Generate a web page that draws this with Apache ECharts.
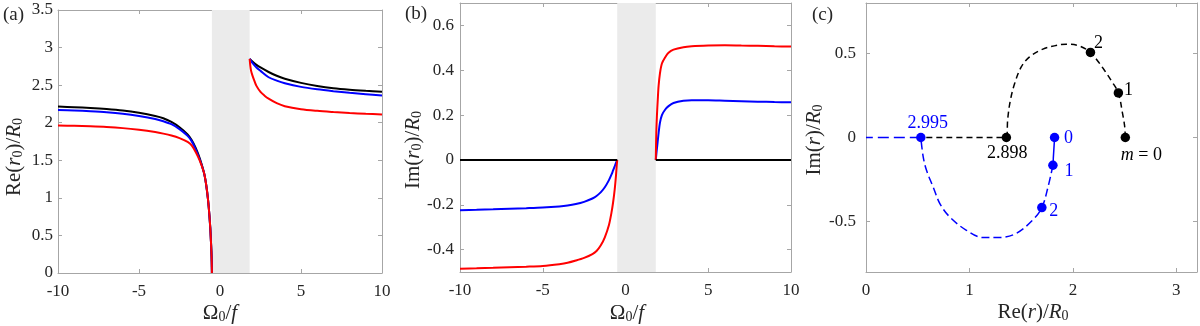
<!DOCTYPE html>
<html>
<head>
<meta charset="utf-8">
<title>r0 versus Omega0/f</title>
<script src="https://cdn.jsdelivr.net/npm/echarts@6/dist/echarts.min.js"></script>
<style>
body { margin: 0; background: #fff; }
#chart { width: 1200px; height: 326px; }
</style>
</head>
<body>
<div id="chart"></div>
<script>
// values
var bandRange = [-0.5, 1.83];

// (a) Re(r0)/R0
var reBlackL = [[-10,2.215],[-9,2.207],[-8,2.197],[-7,2.183],[-6,2.163],[-5,2.132],[-4,2.09],[-3.5,2.06],[-3,2.01],[-2.5,1.94],[-2,1.845],[-1.75,1.77],[-1.5,1.665],[-1.25,1.525],[-1,1.345],[-0.9,1.24],[-0.8,1.09],[-0.7,0.89],[-0.6,0.6],[-0.55,0.38],[-0.52,0.22],[-0.505,0.08],[-0.5,0]];
var reBlueL  = [[-10,2.17],[-9,2.163],[-8,2.153],[-7,2.14],[-6,2.12],[-5,2.09],[-4,2.05],[-3.5,2.02],[-3,1.98],[-2.5,1.915],[-2,1.825],[-1.75,1.755],[-1.5,1.645],[-1.25,1.51],[-1,1.345],[-0.9,1.24],[-0.8,1.09],[-0.7,0.89],[-0.6,0.6],[-0.55,0.38],[-0.52,0.22],[-0.505,0.08],[-0.5,0]];
var reRedL   = [[-10,1.963],[-9,1.958],[-8,1.952],[-7,1.943],[-6,1.928],[-5,1.905],[-4,1.875],[-3.5,1.855],[-3,1.83],[-2.5,1.795],[-2,1.745],[-1.75,1.70],[-1.5,1.61],[-1.25,1.495],[-1,1.345],[-0.9,1.24],[-0.8,1.09],[-0.7,0.89],[-0.6,0.6],[-0.55,0.38],[-0.52,0.22],[-0.505,0.08],[-0.5,0]];
var reBlackR = [[1.83,2.85],[2,2.815],[2.25,2.77],[2.5,2.735],[3,2.675],[3.5,2.625],[4,2.585],[5,2.53],[6,2.49],[7,2.46],[8,2.44],[9,2.425],[10,2.412]];
var reBlueR  = [[1.83,2.85],[2,2.795],[2.25,2.735],[2.5,2.69],[3,2.605],[3.5,2.56],[4,2.525],[5,2.477],[6,2.445],[7,2.42],[8,2.398],[9,2.38],[10,2.363]];
var reRedR   = [[1.83,2.85],[1.87,2.76],[1.92,2.69],[2,2.63],[2.1,2.57],[2.25,2.49],[2.5,2.41],[2.75,2.36],[3,2.32],[3.5,2.26],[4,2.22],[5,2.18],[6,2.158],[7,2.142],[8,2.128],[9,2.118],[10,2.11]];

// (b) Im(r0)/R0
var imRedL   = [[-10,-0.485],[-9,-0.4835],[-8,-0.4815],[-7,-0.479],[-6,-0.4765],[-5,-0.473],[-4,-0.465],[-3.5,-0.459],[-3,-0.449],[-2.5,-0.437],[-2,-0.42],[-1.75,-0.406],[-1.5,-0.382],[-1.25,-0.345],[-1,-0.29],[-0.85,-0.236],[-0.75,-0.19],[-0.65,-0.13],[-0.575,-0.07],[-0.53,-0.025],[-0.5,0]];
var imBlueL  = [[-10,-0.224],[-9,-0.2225],[-8,-0.2205],[-7,-0.218],[-6,-0.2155],[-5,-0.2125],[-4,-0.2075],[-3.5,-0.2035],[-3,-0.197],[-2.5,-0.187],[-2,-0.172],[-1.75,-0.161],[-1.5,-0.145],[-1.25,-0.122],[-1,-0.09],[-0.85,-0.066],[-0.75,-0.047],[-0.65,-0.028],[-0.575,-0.013],[-0.5,0]];
var imRedR   = [[1.83,0],[1.86,0.12],[1.9,0.2],[1.95,0.27],[2,0.33],[2.08,0.385],[2.2,0.43],[2.4,0.458],[2.6,0.478],[2.9,0.492],[3.5,0.503],[4,0.507],[5,0.51],[6,0.511],[7,0.51],[8,0.509],[9,0.507],[10,0.506]];
var imBlueR  = [[1.83,0],[1.87,0.03],[1.92,0.065],[2,0.12],[2.08,0.165],[2.2,0.2],[2.4,0.225],[2.6,0.24],[2.9,0.254],[3.5,0.264],[4,0.266],[5,0.266],[6,0.264],[7,0.262],[8,0.26],[9,0.258],[10,0.257]];
var imBlackL = [[-10,0],[-0.5,0]];
var imBlackR = [[1.83,0],[10,0]];

// (c) r in the complex plane
var cBlack = [[2.507,0],[2.50,0.07],[2.48,0.143],[2.44,0.265],[2.38,0.33],[2.305,0.40],[2.24,0.455],[2.17,0.506],[2.06,0.545],[1.935,0.555],[1.82,0.545],[1.71,0.526],[1.581,0.48],[1.501,0.42],[1.437,0.321],[1.396,0.222],[1.37,0.11],[1.357,0],[0.53,0]];
var cBlueSolid = [[1.823,0],[1.807,-0.165]];
var cBlue = [[1.807,-0.165],[1.76,-0.294],[1.70,-0.417],[1.61,-0.492],[1.45,-0.571],[1.29,-0.595],[1.13,-0.595],[0.971,-0.552],[0.81,-0.473],[0.714,-0.393],[0.649,-0.294],[0.585,-0.195],[0.553,-0.115],[0.53,0]];
var cBlueAxis = [[0.53,0],[0,0]];
var blackPts = [[2.507,0],[2.44,0.265],[2.17,0.506],[1.357,0]];
var blackPtText = ['{i|m} = 0', '1', '2', '2.898'];
var bluePts = [[1.823,0],[1.807,-0.165],[1.70,-0.417],[0.53,0]];
var bluePtText = ['0', '1', '2', '2.995'];

var SERIF = 'Liberation Serif';
var AX = '#a6a6a6';
var TXT = '#262626';

var chart = echarts.init(document.getElementById('chart'));

var grids = [
    { left: 58, top: 10, width: 324, height: 263 },
    { left: 460, top: 3, width: 331, height: 269 },
    { left: 866, top: 3, width: 331, height: 269 }
];

function axisPair(gi, pos, opt) {
    var main = {
        type: 'value', gridIndex: gi, position: pos,
        min: opt.min, max: opt.max,
        axisLine: { show: true, onZero: false, lineStyle: { color: AX, width: 1 } },
        axisTick: { show: true, inside: true, length: 4, lineStyle: { color: AX } },
        splitLine: { show: false },
        axisLabel: {
            show: true, color: TXT, fontFamily: SERIF, fontSize: 17, margin: opt.margin,
            showMinLabel: opt.showMin, showMaxLabel: opt.showMax
        }
    };
    if (opt.interval) main.interval = opt.interval;
    if (opt.splitNumber) main.splitNumber = opt.splitNumber;
    var other = JSON.parse(JSON.stringify(main));
    other.position = (pos === 'bottom') ? 'top' : 'right';
    other.axisLabel = { show: false };
    return [main, other];
}

var xAxes = [].concat(
    axisPair(0, 'bottom', { min: -10, max: 10, interval: 5, margin: 10, showMin: true, showMax: true }),
    axisPair(1, 'bottom', { min: -10, max: 10, interval: 5, margin: 10, showMin: true, showMax: true }),
    axisPair(2, 'bottom', { min: 0, max: 3.2, interval: 1, margin: 10, showMin: true, showMax: false })
);
var yAxes = [].concat(
    axisPair(0, 'left', { min: 0, max: 3.5, interval: 0.5, margin: 5, showMin: true, showMax: true }),
    axisPair(1, 'left', { min: -0.5, max: 0.7, splitNumber: 6, margin: 6, showMin: false, showMax: false }),
    axisPair(2, 'left', { min: -0.8, max: 0.8, splitNumber: 3, margin: 10, showMin: false, showMax: false })
);

function curve(gi, data, color, extra) {
    var s = {
        type: 'line', xAxisIndex: gi * 2, yAxisIndex: gi * 2, data: data,
        showSymbol: false, symbol: 'none', smooth: 0.3,
        lineStyle: { color: color, width: 2 }, silent: true, animation: false, z: 3
    };
    for (var k in extra) s[k] = extra[k];
    return s;
}

function band() {
    return {
        silent: true, itemStyle: { color: '#ebebeb' },
        data: [[{ xAxis: bandRange[0] }, { xAxis: bandRange[1] }]]
    };
}

function pointSeries(pts, texts, color, offsets) {
    return {
        type: 'scatter', xAxisIndex: 4, yAxisIndex: 4, symbol: 'circle', symbolSize: 9.5,
        itemStyle: { color: color, opacity: 1 }, silent: true, animation: false, z: 5,
        data: pts.map(function (p, i) {
            return {
                value: p,
                label: {
                    show: true, formatter: texts[i], position: 'inside',
                    offset: offsets[i], align: 'center', verticalAlign: 'middle',
                    color: color, fontFamily: SERIF, fontSize: 18,
                    rich: { i: { fontFamily: SERIF, fontStyle: 'italic', fontSize: 18, color: color } }
                }
            };
        })
    };
}

var series = [
    curve(0, reBlackL, '#000', { markArea: band(), z: 2 }),
    curve(0, reBlackR, '#000'),
    curve(0, reBlueL, '#0000ff'),
    curve(0, reBlueR, '#0000ff'),
    curve(0, reRedL, '#ff0000'),
    curve(0, reRedR, '#ff0000'),

    curve(1, imBlueL, '#0000ff', { markArea: band(), z: 2 }),
    curve(1, imBlueR, '#0000ff'),
    curve(1, imRedL, '#ff0000'),
    curve(1, imRedR, '#ff0000'),
    curve(1, imBlackL, '#000', { smooth: false }),
    curve(1, imBlackR, '#000', { smooth: false }),

    curve(2, cBlack, '#000', { smooth: 0.35, lineStyle: { color: '#000', width: 1.5, type: [6, 4] } }),
    curve(2, cBlueSolid, '#0000ff', { smooth: false, lineStyle: { color: '#0000ff', width: 1.5 } }),
    curve(2, cBlue, '#0000ff', { smooth: 0.35, lineStyle: { color: '#0000ff', width: 1.5, type: [8, 4] } }),
    curve(2, cBlueAxis, '#0000ff', { smooth: false, lineStyle: { color: '#0000ff', width: 1.5, type: [11, 5] } }),
    pointSeries(blackPts, blackPtText, '#000', [[16, 18], [10, -3], [8, -9], [1, 16]]),
    pointSeries(bluePts, bluePtText, '#0000ff', [[14, 1], [16, 6], [12, 4], [7, -14]])
];

var titleRich = {
    n: { fontFamily: SERIF, fontSize: 21, color: TXT },
    i: { fontFamily: SERIF, fontSize: 21, fontStyle: 'italic', color: TXT },
    s: { fontFamily: SERIF, fontSize: 14, color: TXT, padding: [9, 0, 0, 0] }
};

function title(x, y, text, rotate) {
    return {
        type: 'text', x: x, y: y, rotation: rotate ? Math.PI / 2 : 0, silent: true,
        style: { text: text, rich: titleRich, align: 'center', verticalAlign: 'middle', fontFamily: SERIF, fontSize: 21, fill: TXT }
    };
}

function tag(x, y, text) {
    return {
        type: 'text', x: x, y: y, silent: true,
        style: { text: text, fontFamily: SERIF, fontSize: 19, fill: TXT, verticalAlign: 'middle' }
    };
}

chart.setOption({
    animation: false,
    grid: grids,
    xAxis: xAxes,
    yAxis: yAxes,
    series: series,
    graphic: [
        tag(3, 15, '(a)'), tag(405, 14, '(b)'), tag(812, 15, '(c)'),
        title(220, 313, '{n|Ω}{s|0}{n|/}{i|f}'),
        title(627, 313, '{n|Ω}{s|0}{n|/}{i|f}'),
        title(1033, 312, '{n|Re(}{i|r}{n|)/}{i|R}{s|0}'),
        title(14, 157, '{n|Re(}{i|r}{s|0}{n|)/}{i|R}{s|0}', true),
        title(413, 150, '{n|Im(}{i|r}{s|0}{n|)/}{i|R}{s|0}', true),
        title(814, 140, '{n|Im(}{i|r}{n|)/}{i|R}{s|0}', true)
    ]
});
</script>
</body>
</html>
